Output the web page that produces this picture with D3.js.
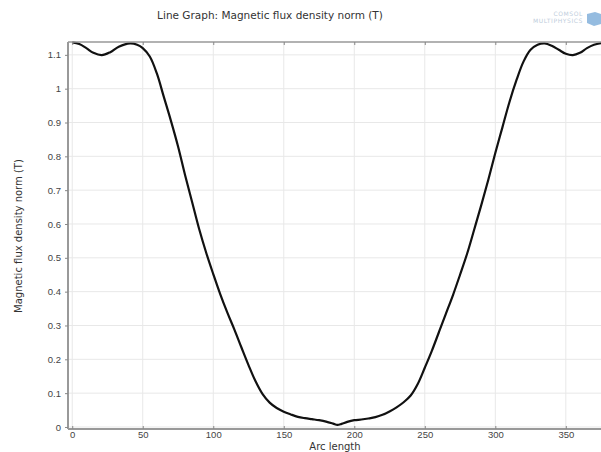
<!DOCTYPE html>
<html>
<head>
<meta charset="utf-8">
<script src="https://cdn.jsdelivr.net/npm/d3@7"></script>
<style>
  html, body { margin: 0; padding: 0; background: #fff; }
  svg { display: block; font-family: "DejaVu Sans", sans-serif; }
</style>
</head>
<body>
<svg id="chart" width="601" height="452"></svg>
<script>
// Arc length samples along the cut line
const arcLength = [0, 5, 10, 15, 21, 27, 33, 41, 46, 50, 55, 60, 65, 70, 75, 80, 85, 90, 95, 100,
  105, 110, 115, 120, 125, 130, 135, 140, 145, 150, 155, 160, 165, 170, 175, 180, 185, 188, 191, 195,
  200, 205, 210, 215, 220, 225, 230, 235, 240, 245, 250, 255, 260, 265, 270, 275, 280, 285, 290, 295,
  300, 305, 310, 315, 320, 325, 330, 335, 340, 345, 350, 355, 360, 365, 370, 375];
// Magnetic flux density norm (T) at each sample
const fluxNorm = [1.137, 1.132, 1.12, 1.106, 1.099, 1.108, 1.124, 1.134, 1.13, 1.12, 1.095, 1.045, 0.975, 0.905, 0.83, 0.745, 0.665, 0.585, 0.515, 0.452,
  0.392, 0.338, 0.288, 0.235, 0.183, 0.135, 0.097, 0.072, 0.056, 0.045, 0.037, 0.03, 0.026, 0.023, 0.02, 0.016, 0.01, 0.006, 0.009, 0.015,
  0.02, 0.022, 0.025, 0.029, 0.036, 0.046, 0.058, 0.073, 0.093, 0.127, 0.175, 0.225, 0.28, 0.335, 0.39, 0.45, 0.512, 0.583, 0.655, 0.73,
  0.81, 0.885, 0.96, 1.025, 1.08, 1.115, 1.13, 1.134, 1.127, 1.115, 1.103, 1.099, 1.106, 1.12, 1.13, 1.135];
const xTicks = [0, 50, 100, 150, 200, 250, 300, 350];
const yTicks = [0, 0.1, 0.2, 0.3, 0.4, 0.5, 0.6, 0.7, 0.8, 0.9, 1, 1.1];

const titleText = "Line Graph: Magnetic flux density norm (T)";
const xLabel = "Arc length";
const yLabel = "Magnetic flux density norm (T)";

const svg = d3.select("#chart");
const plotL = 68, plotT = 42, plotR = 606, plotB = 429;

const x = d3.scaleLinear().domain([-3, 378.5]).range([plotL, plotR]);
const y = d3.scaleLinear().domain([-0.006, 1.138]).range([plotB, plotT]);

// grid
const grid = svg.append("g");
grid.selectAll("line.gx").data(xTicks).join("line")
  .attr("x1", d => x(d)).attr("x2", d => x(d))
  .attr("y1", plotT).attr("y2", plotB)
  .attr("stroke", "#e8e8e8").attr("stroke-width", 1);
grid.selectAll("line.gy").data(yTicks).join("line")
  .attr("x1", plotL).attr("x2", plotR)
  .attr("y1", d => y(d)).attr("y2", d => y(d))
  .attr("stroke", "#e8e8e8").attr("stroke-width", 1);

// curve
const line = d3.line()
  .x((d, i) => x(arcLength[i]))
  .y(d => y(d))
  .curve(d3.curveCatmullRom.alpha(0.5));
svg.append("path")
  .datum(fluxNorm)
  .attr("d", line)
  .attr("fill", "none")
  .attr("stroke", "#111")
  .attr("stroke-width", 2.2)
  .attr("stroke-linejoin", "round");

// frame
svg.append("line").attr("x1", plotL).attr("x2", plotR).attr("y1", plotT).attr("y2", plotT)
  .attr("stroke", "#999").attr("stroke-width", 1.5);
svg.append("line").attr("x1", plotL).attr("x2", plotR).attr("y1", plotB).attr("y2", plotB)
  .attr("stroke", "#999").attr("stroke-width", 2);
svg.append("line").attr("x1", plotL).attr("x2", plotL).attr("y1", plotT).attr("y2", plotB)
  .attr("stroke", "#999").attr("stroke-width", 2);

// axes
const xAxis = d3.axisBottom(x).tickValues(xTicks).tickSize(-3).tickPadding(5).tickFormat(d3.format("d"));
const gx = svg.append("g").attr("transform", `translate(0,${plotB})`).call(xAxis);
const xAxisTop = d3.axisTop(x).tickValues(xTicks).tickSize(-3).tickFormat("");
const gxt = svg.append("g").attr("transform", `translate(0,${plotT})`).call(xAxisTop);
const yAxis = d3.axisLeft(y).tickValues(yTicks).tickSize(3).tickPadding(4).tickFormat(d => d3.format("~g")(d));
const gy = svg.append("g").attr("transform", `translate(${plotL},0)`).call(yAxis);

[gx, gxt, gy].forEach(g => {
  g.select(".domain").remove();
  g.selectAll(".tick line").attr("stroke", "#888");
  g.selectAll(".tick text").attr("fill", "#444").attr("font-size", 9.5);
});
gx.selectAll(".tick text").attr("dy", "0.45em");

// titles
svg.append("text").attr("x", 270).attr("y", 19).attr("text-anchor", "middle")
  .attr("font-size", 10.5).attr("fill", "#333").text(titleText);
svg.append("text").attr("x", 335).attr("y", 450).attr("text-anchor", "middle")
  .attr("font-size", 10).attr("fill", "#333").text(xLabel);
svg.append("text").attr("transform", "translate(22,236) rotate(-90)").attr("text-anchor", "middle")
  .attr("font-size", 10).attr("fill", "#333").text(yLabel);

// product badge
const badge = svg.append("g").attr("opacity", 0.55);
badge.append("text").attr("x", 583).attr("y", 16).attr("text-anchor", "end")
  .attr("font-size", 6).attr("fill", "#8aa4c0").attr("letter-spacing", 0.6).text("COMSOL");
badge.append("text").attr("x", 583).attr("y", 23).attr("text-anchor", "end")
  .attr("font-size", 6).attr("fill", "#8aa4c0").attr("letter-spacing", 0.6).text("MULTIPHYSICS");
badge.append("path").attr("d", "M587,14 L595,12 L601,14 L601,24 L594,26 L587,23 Z")
  .attr("fill", "#3f86c8");
</script>
</body>
</html>
